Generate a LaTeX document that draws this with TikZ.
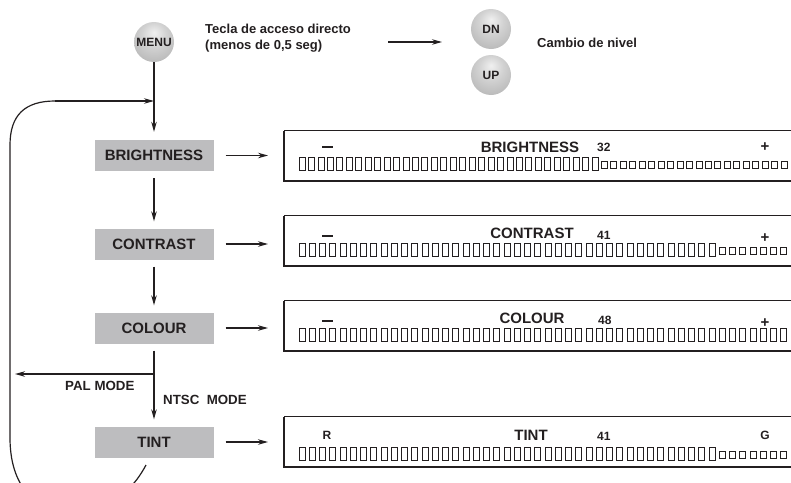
\documentclass[tikz,border=0pt]{standalone}
\usepackage{fontspec}
\setmainfont{Liberation Sans}
\usetikzlibrary{arrows.meta}
\definecolor{ink}{HTML}{231F20}
\definecolor{boxgray}{HTML}{BDBDBF}
\pgfdeclareradialshading{btnshade}{\pgfpoint{0bp}{12bp}}{%
  color(0bp)=(gray!12); color(15bp)=(gray!35); color(35bp)=(gray!58);
  color(55bp)=(gray!78); color(65bp)=(gray!85)}
\newcommand\mybars[4]{%
  \foreach \i in {1,...,#3}{%
    \pgfmathsetmacro\xx{299+(\i-1)*#4}%
    \ifnum\i>#2\relax
      \draw[barline] (\xx,#1-2.5) rectangle ++(6,7);
    \else
      \draw[barline] (\xx,#1-6.5) rectangle ++(6,13);
    \fi
  }}
\begin{document}
\begin{tikzpicture}[x=1pt,y=-1pt,
  txt/.style={text=ink,font=\bfseries\fontsize{13}{16}\selectfont,inner sep=0pt},
  boxlbl/.style={fill=boxgray,minimum width=119pt,minimum height=31pt,inner sep=0pt,
     text=ink,font=\bfseries\fontsize{15}{18}\selectfont},
  disp/.style={minimum width=520pt,minimum height=50pt,inner sep=0pt,anchor=west},
  dlbl/.style={text=ink,font=\bfseries\fontsize{15}{18}\selectfont,inner sep=0pt},
  dnum/.style={text=ink,font=\bfseries\fontsize{12}{14}\selectfont,inner sep=0pt,anchor=west},
  mbar/.style={fill=ink,minimum width=11pt,minimum height=2.4pt,inner sep=0pt},
  btn/.style={circle,minimum size=40pt,inner sep=0pt,shading=btnshade,
     text=ink,font=\bfseries\fontsize{12}{14}\selectfont},
  arr/.style={draw=ink,line width=1.2pt,-{Stealth[length=10pt,width=5.5pt]}},
  ln/.style={draw=ink,line width=1.2pt},
  barline/.style={draw=ink,line width=0.8pt},
]
\useasboundingbox (0,0) rectangle (791,482);
\begin{scope}
\clip (0,0) rectangle (791,482);
% buttons
\node[btn] (menu) at (154,42) {MENU};
\node[btn] (dn) at (491,29) {DN};
\node[btn] (up) at (491,75) {UP};
\node[txt,anchor=west,align=left] (tecla) at (205,38) {Tecla de acceso directo\\(menos de 0,5 seg)};
\coordinate (ta) at (388,42);
\coordinate (tb) at (442,42);
\draw[arr] (ta) -- (tb);
\node[txt,anchor=west] (cambio) at (537,43) {Cambio de nivel};

% menu boxes
\node[boxlbl] (bright) at (154,155.5) {BRIGHTNESS};
\node[boxlbl] (contrast) at (154,244) {CONTRAST};
\node[boxlbl] (colour) at (154,328) {COLOUR};
\node[boxlbl] (tint) at (154,442) {TINT};

\draw[arr,shorten >=8pt] (menu.south) -- (bright.north);
\draw[arr,shorten <=7pt,shorten >=7pt] (bright.south) -- (contrast.north);
\draw[arr,shorten <=7pt,shorten >=7pt] (contrast.south) -- (colour.north);
\draw[arr,shorten <=7pt,shorten >=7pt] (colour.south) -- (tint.north);

% PAL branch
\coordinate (palst) at (154,374);
\coordinate (palend) at (15,374);
\draw[arr] (palst) -- (palend);
\node[txt,font=\bfseries\fontsize{13.3}{15}\selectfont,anchor=west] (pal) at (65,386) {PAL MODE};
\node[txt,font=\bfseries\fontsize{13.3}{15}\selectfont,anchor=west] (ntsc) at (163,400) {NTSC\ \ MODE};

% loop back
\coordinate (loopin) at (154,100);
\coordinate (loopout) at (146,465);
\draw[ln] (loopout) .. controls (130,495) and (105,512) .. (75,512)
   .. controls (40,512) and (11,492) .. (10,440) -- (10,145)
   .. controls (10,115) and (25,101) .. (55,101);
\draw[arr] (55,101) -- (loopin |- 0,101);

% displays
\node[disp] (dbright) at (284,156) {};
\node[disp] (dcontrast) at (284,241) {};
\node[disp] (dcolour) at (284,326) {};
\node[disp] (dtint) at (284,442) {};
\foreach \d in {dbright,dcontrast,dcolour,dtint}{
  \draw[draw=ink,line width=1.3pt] (\d.north east) -- (\d.north west);
  \draw[draw=ink,line width=2pt] (\d.north west) -- (\d.south west) -- (\d.south east);
}
\foreach \b/\d in {bright/dbright,contrast/dcontrast,colour/dcolour,tint/dtint}{
  \draw[arr,shorten <=12pt,shorten >=16pt] (\b.east) -- (\b.east -| \d.west);
}

% display contents
\node[mbar] (mb) at (327,147) {};
\node[dlbl] (lb) at (530,147) {BRIGHTNESS};
\node[dnum] (nb) at (597,147) {32};
\node[dlbl] (pb) at (765,147) {+};
\mybars{164}{32}{52}{9.45}

\node[mbar] (mc) at (327,236) {};
\node[dlbl] (lc) at (532,233) {CONTRAST};
\node[dnum] (nc) at (597,235) {41};
\node[dlbl] (pc) at (765,238) {+};
\mybars{250}{41}{48}{10.25}

\node[mbar] (mo) at (327,321) {};
\node[dlbl] (lo) at (532,318) {COLOUR};
\node[dnum] (no) at (598,320) {48};
\node[dlbl] (po) at (765,323) {+};
\mybars{335}{48}{48}{10.25}

\node[dnum,anchor=center] (rt) at (327,435) {R};
\node[dlbl] (lt) at (531,435) {TINT};
\node[dnum] (nt) at (597,436) {41};
\node[dnum,anchor=center] (gt) at (765,435) {G};
\mybars{454}{41}{48}{10.25}
\end{scope}
\end{tikzpicture}
\end{document}
